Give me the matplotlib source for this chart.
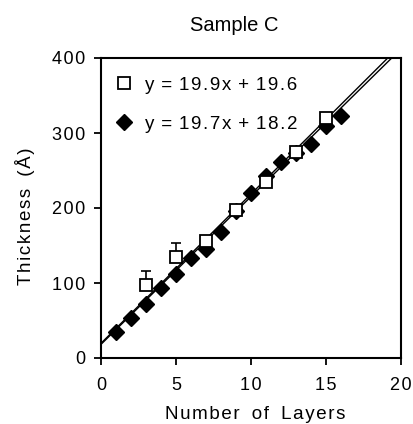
import numpy as np
import matplotlib
matplotlib.use("Agg")
import matplotlib.pyplot as plt

plt.rcParams["font.family"] = ["Liberation Sans", "DejaVu Sans"]
plt.rcParams["font.size"] = 13.5

# open squares (with error bars on the first two)
sq_layers = [3, 5, 7, 9, 11, 13, 15]
sq_thick = [97, 135, 156, 198, 235, 275, 320]
sq_err_up = [19, 19, 0, 0, 0, 0, 0]

# filled diamonds
dia_layers = [1, 2, 3, 4, 5, 6, 7, 8, 9, 10, 11, 12, 13, 14, 15, 16]
dia_thick = [35, 53, 72, 94, 112, 134, 145, 168, 196, 220, 243, 261, 274, 285, 309, 323]

# linear fits (slope, intercept)
sq_fit = (19.9, 19.6)
dia_fit = (19.7, 18.2)

xticks = [0, 5, 10, 15, 20]
yticks = [0, 100, 200, 300, 400]


def track(s):
    # loose letter spacing like the old typesetting (hair space between glyphs)
    out = s[0]
    for ch in s[1:]:
        if ch != " ":
            out += "\u200a"
        out += ch
    return out


fig = plt.figure(figsize=(4.13, 4.24), dpi=100)
ax = fig.add_axes([101 / 413, 66 / 424, 300 / 413, 300 / 424])

xfit = np.array([0, 20])
ax.plot(xfit, dia_fit[0] * xfit + dia_fit[1], color="black", lw=1.0, zorder=2)
ax.plot(xfit, sq_fit[0] * xfit + sq_fit[1], color="black", lw=1.0, zorder=2)

ax.plot(dia_layers, dia_thick, "D", color="black", ms=8.5, zorder=3,
        label=track(f"y = {dia_fit[0]}x + {dia_fit[1]}"))

ax.errorbar(sq_layers, sq_thick, yerr=[np.zeros(len(sq_err_up)), sq_err_up],
            fmt="none", ecolor="black", elinewidth=1.2, capsize=3.5, capthick=1.2, zorder=3.5)
ax.plot(sq_layers, sq_thick, "s", mfc="white", mec="black", mew=1.3, ms=8.5, zorder=4,
        label=track(f"y = {sq_fit[0]}x + {sq_fit[1]}"))

handles, labels = ax.get_legend_handles_labels()
ax.legend(handles[::-1], labels[::-1], loc="upper left", bbox_to_anchor=(-0.018, 1.0),
          frameon=False, handlelength=1.0, handletextpad=0.65, labelspacing=1.15,
          borderaxespad=0.6, fontsize=13.5)

ax.set_xlim(0, 20)
ax.set_ylim(0, 400)
ax.set_xticks(xticks)
ax.set_xticklabels([track(str(v)) for v in xticks])
ax.set_yticks(yticks)
ax.set_yticklabels([track(str(v)) for v in yticks])
ax.tick_params(direction="out", length=5, width=1.3, labelsize=13)
ax.tick_params(axis="x", pad=9)
ax.tick_params(axis="y", pad=6)
for sp in ax.spines.values():
    sp.set_linewidth(1.5)

fig.text(255 / 413, 5 / 424, track("Number  of  Layers"), ha="center", va="baseline")
fig.text(25 / 413, 1 - 216 / 424, track("Thickness  (\u00c5)"), rotation=90,
         ha="center", va="center")
fig.text(234 / 413, 1 - 31 / 424, "Sample C", ha="center", va="baseline", fontsize=14.5)

fig.savefig("out.png", dpi=100)
